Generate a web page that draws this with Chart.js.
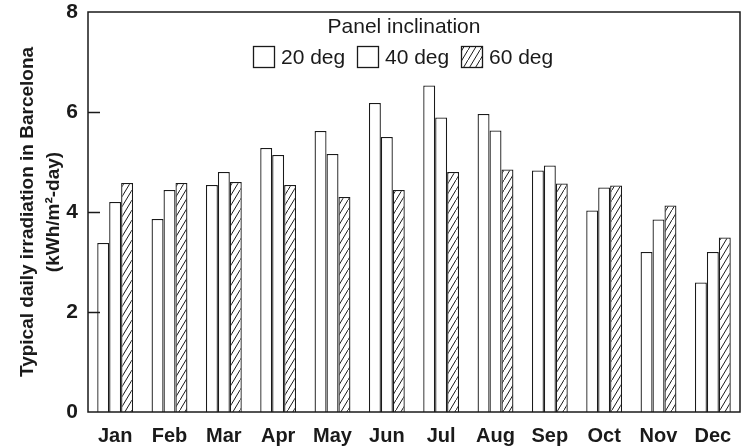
<!DOCTYPE html>
<html lang="en">
<head>
<meta charset="UTF-8">
<title>Irradiation Barcelona</title>
<script src="https://cdn.jsdelivr.net/npm/chart.js"></script>
<style>
    body { margin: 0; padding: 0; background: #fff; }
    #wrap { width: 746px; height: 447px; }
</style>
</head>
<body>
<div id="wrap"><canvas id="chart" width="746" height="447"></canvas></div>
<script>
// data
var months = ['Jan', 'Feb', 'Mar', 'Apr', 'May', 'Jun', 'Jul', 'Aug', 'Sep', 'Oct', 'Nov', 'Dec'];
var deg20 = [3.38, 3.86, 4.54, 5.28, 5.62, 6.18, 6.53, 5.96, 4.83, 4.03, 3.20, 2.59];
var deg40 = [4.20, 4.44, 4.80, 5.14, 5.16, 5.50, 5.89, 5.63, 4.93, 4.49, 3.85, 3.20];
var deg60 = [4.58, 4.58, 4.60, 4.54, 4.30, 4.44, 4.80, 4.85, 4.57, 4.53, 4.13, 3.49];
var seriesLabels = ['20 deg', '40 deg', '60 deg'];
var yTicks = [0, 2, 4, 6, 8];

var ink = '#1a1a1a';
var fam = '"Liberation Sans", Arial, sans-serif';

// diagonal hatch for the 60 deg bars
function makeHatch() {
    var c = document.createElement('canvas');
    c.width = 12; c.height = 20;
    var g = c.getContext('2d');
    g.fillStyle = '#fff';
    g.fillRect(0, 0, 12, 20);
    g.strokeStyle = ink;
    g.lineWidth = 1;
    for (var k = -1; k <= 3; k++) {
        g.beginPath();
        g.moveTo(0, 20 + 10 * k);
        g.lineTo(12, 10 * k);
        g.stroke();
    }
    return g.createPattern(c, 'repeat');
}
var hatch = makeHatch();

// frame, inward ticks and legend
var decor = {
    id: 'decor',
    afterDraw: function(chart) {
        var ctx = chart.ctx, a = chart.chartArea, y = chart.scales.y;
        ctx.save();
        ctx.strokeStyle = ink;
        ctx.lineWidth = 1.5;
        ctx.strokeRect(a.left, a.top, a.right - a.left, a.bottom - a.top);
        yTicks.forEach(function(v) {
            if (v === 0 || v === 8) return;
            var py = Math.round(y.getPixelForValue(v)) + 0.5;
            ctx.beginPath();
            ctx.moveTo(a.left, py);
            ctx.lineTo(a.left + 12, py);
            ctx.stroke();
        });

        ctx.fillStyle = ink;
        ctx.font = '21px ' + fam;
        ctx.textBaseline = 'middle';
        ctx.textAlign = 'center';
        ctx.fillText('Panel inclination', 404, 27);
        ctx.textAlign = 'left';
        var boxX = [253, 357, 461];
        chart.data.datasets.forEach(function(ds, i) {
            ctx.fillStyle = ds.backgroundColor;
            ctx.fillRect(boxX[i], 46, 21, 21);
            ctx.lineWidth = 1.3;
            ctx.strokeRect(boxX[i] + 0.5, 46.5, 21, 21);
            ctx.fillStyle = ink;
            ctx.fillText(ds.label, boxX[i] + 28, 58);
        });
        ctx.restore();
    }
};

function noOverflow(s) {
    s.paddingTop = 0; s.paddingBottom = 0;
    s.paddingLeft = 0; s.paddingRight = 0;
}

var ctx = document.getElementById('chart').getContext('2d');
new Chart(ctx, {
    type: 'bar',
    data: {
        labels: months,
        datasets: [
            { label: seriesLabels[0], data: deg20, backgroundColor: '#fff', borderColor: ink, borderWidth: 1.3 },
            { label: seriesLabels[1], data: deg40, backgroundColor: '#fff', borderColor: ink, borderWidth: 1.3 },
            { label: seriesLabels[2], data: deg60, backgroundColor: hatch, borderColor: ink, borderWidth: 1.3 }
        ]
    },
    options: {
        responsive: false,
        animation: false,
        layout: { padding: { top: 12, right: 6, left: 0, bottom: 0 } },
        datasets: { bar: { categoryPercentage: 0.66, barPercentage: 1.0 } },
        plugins: { legend: { display: false }, tooltip: { enabled: false } },
        scales: {
            x: {
                grid: { display: false, drawTicks: false },
                border: { display: false },
                ticks: { color: ink, font: { family: fam, size: 20, weight: 'bold' }, padding: 12 },
                afterFit: function(s) { s.height = 35; noOverflow(s); }
            },
            y: {
                min: 0, max: 8,
                grid: { display: false, drawTicks: false },
                border: { display: false },
                ticks: { stepSize: 2, color: ink, padding: 10, font: { family: fam, size: 21, weight: 'bold' } },
                title: {
                    display: true,
                    text: ['Typical daily irradiation in Barcelona', '(kWh/m\u00b2-day)'],
                    color: ink,
                    font: { family: fam, size: 19, weight: 'bold', lineHeight: 1.4 },
                    padding: { top: 14, bottom: 0 }
                },
                afterFit: function(s) { s.width = 88; noOverflow(s); }
            }
        }
    },
    plugins: [decor]
});
</script>
</body>
</html>
